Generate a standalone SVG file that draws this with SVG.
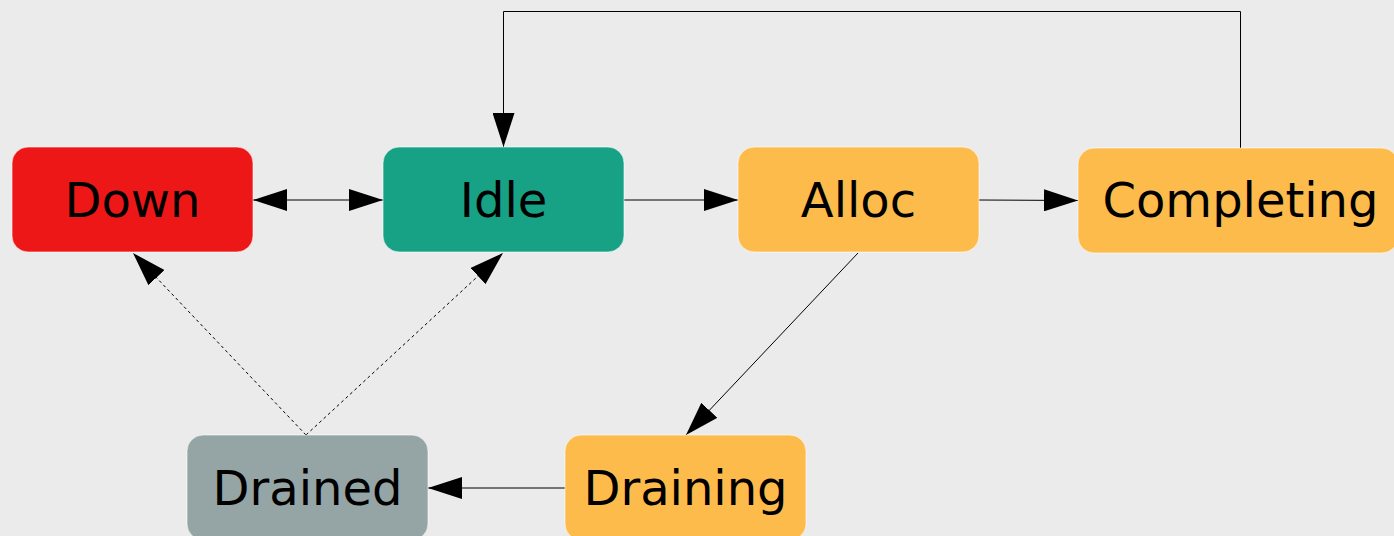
<svg xmlns="http://www.w3.org/2000/svg" width="1394" height="536" viewBox="0 0 1394 536">
  <style>
    .box { stroke: #ffffff; stroke-opacity: 0.6; stroke-width: 1; }
    .label { font-family: "DejaVu Sans", sans-serif; font-size: 48px; fill: #000000; text-anchor: middle; }
    .edge { fill: none; stroke: #000000; stroke-width: 1; }
    .dashed { stroke-dasharray: 3 3; }
  </style>
  <defs>
    <marker id="arrow" viewBox="0 0 34 22" refX="34" refY="11" markerWidth="34" markerHeight="22" markerUnits="userSpaceOnUse" orient="auto-start-reverse">
      <path d="M0,0 L34,11 L0,22 Z" fill="#000000"/>
    </marker>
  </defs>
  <rect width="1394" height="536" fill="#ebebeb"/>

  <g id="connectors">
    <line class="edge" x1="253" y1="200" x2="383" y2="200" marker-start="url(#arrow)" marker-end="url(#arrow)"/>
    <line class="edge" x1="624" y1="200" x2="738" y2="200" marker-end="url(#arrow)"/>
    <line class="edge" x1="979" y1="200" x2="1078" y2="200.5" marker-end="url(#arrow)"/>
    <polyline class="edge" points="1240.5,148 1240.5,11.5 503.5,11.5 503.5,147" marker-end="url(#arrow)"/>
    <line class="edge" x1="858" y1="253" x2="686" y2="435" marker-end="url(#arrow)"/>
    <line class="edge" x1="565" y1="488" x2="428" y2="488" marker-end="url(#arrow)"/>
    <line class="edge dashed" x1="306" y1="435" x2="133" y2="253" marker-end="url(#arrow)"/>
    <line class="edge dashed" x1="306" y1="435" x2="503" y2="253" marker-end="url(#arrow)"/>
  </g>

  <g id="node-down">
    <rect class="box" x="12" y="147" width="241" height="105" rx="16" fill="#ee1717"/>
    <text class="label" x="132.5" y="217">Down</text>
  </g>
  <g id="node-idle">
    <rect class="box" x="383" y="147" width="241" height="105" rx="16" fill="#17a185"/>
    <text class="label" x="503.5" y="217">Idle</text>
  </g>
  <g id="node-alloc">
    <rect class="box" x="738" y="147" width="241" height="105" rx="16" fill="#fdbb4c"/>
    <text class="label" x="858.5" y="217">Alloc</text>
  </g>
  <g id="node-completing">
    <rect class="box" x="1078" y="148" width="320" height="105" rx="16" fill="#fdbb4c"/>
    <text class="label" x="1240.5" y="217">Completing</text>
  </g>
  <g id="node-draining">
    <rect class="box" x="565" y="435" width="241" height="105" rx="16" fill="#fdbb4c"/>
    <text class="label" x="685.5" y="505">Draining</text>
  </g>
  <g id="node-drained">
    <rect class="box" x="187" y="435" width="241" height="105" rx="16" fill="#95a5a5"/>
    <text class="label" x="307.5" y="505">Drained</text>
  </g>
</svg>
